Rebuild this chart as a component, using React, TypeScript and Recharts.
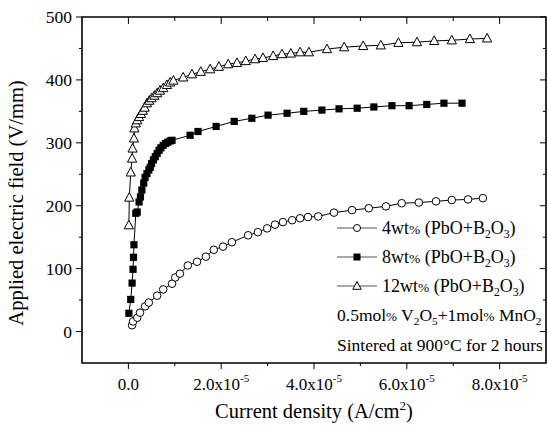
import React from 'react';
import { LineChart, Line, XAxis, YAxis, ReferenceArea } from 'recharts';

const W = 547;
const H = 425;
const PLOT = { left: 82, right: 546, top: 17, bottom: 363 };
const FONT = "'Liberation Serif', 'Times New Roman', serif";

// current density in units of 1e-5 A/cm2, field in V/mm
const x4 = [0.08, 0.10, 0.19, 0.25, 0.36, 0.44, 0.62, 0.75, 0.94, 1.01, 1.11, 1.28, 1.48, 1.67, 1.84, 2.04, 2.23, 2.58, 2.79, 2.99, 3.16, 3.33, 3.53, 3.70, 3.87, 4.09, 4.43, 4.82, 5.18, 5.55, 5.89, 6.26, 6.63, 6.97, 7.32, 7.64];
const y4 = [10, 16, 22, 30, 40, 46, 57, 67, 76, 86, 92, 105, 111, 119, 130, 135, 142, 153, 158, 164, 170, 174, 177, 180, 182, 183, 189, 193, 196, 199, 204, 205, 207, 209, 210, 212];

const x8 = [0.01, 0.05, 0.08, 0.10, 0.11, 0.12, 0.16, 0.19, 0.23, 0.26, 0.29, 0.33, 0.36, 0.40, 0.44, 0.47, 0.50, 0.54, 0.58, 0.62, 0.66, 0.70, 0.75, 0.80, 0.85, 0.90, 0.94, 1.33, 1.50, 1.89, 2.28, 2.66, 3.01, 3.42, 3.78, 4.17, 4.54, 4.93, 5.29, 5.68, 6.05, 6.43, 6.80, 7.19];
const y8 = [29, 51, 77, 99, 118, 138, 188, 190, 206, 214, 225, 236, 245, 251, 257, 261, 267, 273, 278, 283, 288, 292, 296, 299, 301, 303, 304, 312, 318, 326, 334, 339, 344, 347, 350, 352, 354, 355, 357, 359, 359, 361, 363, 363];

const x12 = [0.01, 0.02, 0.05, 0.08, 0.09, 0.12, 0.13, 0.16, 0.19, 0.23, 0.27, 0.31, 0.35, 0.40, 0.45, 0.50, 0.56, 0.62, 0.68, 0.75, 0.83, 0.90, 0.97, 1.18, 1.37, 1.56, 1.76, 1.95, 2.15, 2.34, 2.53, 2.73, 2.90, 3.12, 3.31, 3.50, 3.70, 3.89, 4.28, 4.65, 5.06, 5.44, 5.82, 6.22, 6.59, 6.97, 7.36, 7.73];
const y12 = [169, 213, 253, 275, 291, 307, 323, 331, 336, 341, 346, 351, 356, 363, 367, 371, 375, 379, 383, 387, 392, 396, 399, 404, 409, 413, 417, 421, 425, 427, 430, 433, 435, 438, 441, 442, 444, 444, 449, 452, 454, 455, 459, 460, 462, 463, 465, 466];

// {..} = subscript
const seriesNames = ['4wt% (PbO+B{2}O{3})', '8wt% (PbO+B{2}O{3})', '12wt% (PbO+B{2}O{3})'];
const notes = ['0.5mol% V{2}O{5}+1mol% MnO{2}', 'Sintered at 900°C for 2 hours'];

const xTicks = [-1, 0, 1, 2, 3, 4, 5, 6, 7, 8, 9];
const yTicks = [-50, 0, 50, 100, 150, 200, 250, 300, 350, 400, 450, 500];

const toPoints = (xs: number[], ys: number[]) => xs.map((x, i) => ({ x: x * 1e-5, y: ys[i] }));
const data4 = toPoints(x4, y4);
const data8 = toPoints(x8, y8);
const data12 = toPoints(x12, y12);

const CircleDot = (p: any) => (
  <circle key={p.key} cx={p.cx} cy={p.cy} r={3.8} fill="#fff" stroke="#000" strokeWidth={1} />
);
const SquareDot = (p: any) => (
  <rect key={p.key} x={p.cx - 3.6} y={p.cy - 3.6} width={7.2} height={7.2} fill="#000" />
);
const TriangleDot = (p: any) => (
  <polygon
    key={p.key}
    points={`${p.cx},${p.cy - 5} ${p.cx - 4.6},${p.cy + 3.6} ${p.cx + 4.6},${p.cy + 3.6}`}
    fill="#fff"
    stroke="#000"
    strokeWidth={1}
  />
);

const XTick = (props: any) => {
  const { x, y, payload } = props;
  const n = Math.round(payload.value * 1e5);
  if (n <= -1 || n >= 9) return <g />;
  const major = n % 2 === 0;
  return (
    <g>
      <line x1={x} x2={x} y1={y} y2={y + (major ? 6 : 3)} stroke="#000" />
      <line x1={x} x2={x} y1={PLOT.top} y2={PLOT.top + (major ? 7 : 4)} stroke="#000" />
      {major && (
        <text x={x} y={y + 27} textAnchor="middle" fontFamily={FONT} fontSize={17} fill="#000">
          {n === 0 ? '0.0' : (
            <>
              {`${n}.0x10`}
              <tspan dy={-8} fontSize={11}>-5</tspan>
            </>
          )}
        </text>
      )}
    </g>
  );
};

const YTick = (props: any) => {
  const { x, y, payload } = props;
  const v = payload.value;
  if (v <= -50) return <g />;
  const major = v % 100 === 0;
  return (
    <g>
      <line x1={x - (major ? 6 : 3)} x2={x} y1={y} y2={y} stroke="#000" />
      <line x1={PLOT.right - (major ? 6 : 3)} x2={PLOT.right} y1={y} y2={y} stroke="#000" />
      {major && (
        <text x={x - 10} y={y + 6} textAnchor="end" fontFamily={FONT} fontSize={17.5} fill="#000">
          {v}
        </text>
      )}
    </g>
  );
};

// subscripts in {..}; the percent sign is drawn narrower, as in the original figure
const SubText = ({ x, y, text, size }: { x: number; y: number; text: string; size: number }) => {
  const parts = text.split(/(\{.*?\}|%)/);
  let offset = 0;
  return (
    <text x={x} y={y} fontFamily={FONT} fontSize={size} fill="#000">
      {parts.map((p, i) => {
        if (!p) return null;
        const sub = p.startsWith('{');
        const target = sub ? 4 : 0;
        const dy = target - offset;
        offset = target;
        const fs = sub ? size * 0.65 : p === '%' ? size * 0.75 : size;
        return (
          <tspan key={i} dy={dy} fontSize={fs}>
            {sub ? p.slice(1, -1) : p}
          </tspan>
        );
      })}
    </text>
  );
};

const legendMarkers = [
  (cx: number, cy: number) => <circle cx={cx} cy={cy} r={3.5} fill="#fff" stroke="#000" />,
  (cx: number, cy: number) => <rect x={cx - 3.5} y={cy - 3.5} width={7} height={7} fill="#000" />,
  (cx: number, cy: number) => (
    <polygon points={`${cx},${cy - 4.5} ${cx - 4.2},${cy + 3.3} ${cx + 4.2},${cy + 3.3}`} fill="#fff" stroke="#000" />
  ),
];

const LegendOverlay = () => {
  const rowY = [228, 257, 286];
  const noteY = [321, 351];
  return (
    <svg width={W} height={H} style={{ position: 'absolute', left: 0, top: 0, pointerEvents: 'none' }}>
      {seriesNames.map((name, i) => (
        <g key={name}>
          <line x1={337} x2={377} y1={rowY[i]} y2={rowY[i]} stroke="#555" strokeWidth={1.2} />
          {legendMarkers[i](357, rowY[i])}
          <SubText x={382} y={rowY[i] + 6} text={name} size={18} />
        </g>
      ))}
      {notes.map((n, i) => (
        <SubText key={n} x={337} y={noteY[i]} text={n} size={17.5} />
      ))}
    </svg>
  );
};

export default function App() {
  return (
    <div style={{ position: 'absolute', left: 0, top: 0, width: W, height: H, background: '#fff' }}>
      <LineChart
        width={W}
        height={H}
        margin={{ top: PLOT.top, right: W - PLOT.right, bottom: 0, left: 0 }}
      >
        <XAxis
          dataKey="x"
          type="number"
          domain={[-1e-5, 9e-5]}
          ticks={xTicks.map((t) => t * 1e-5)}
          interval={0}
          tickSize={0}
          tickMargin={0}
          tickLine={false}
          axisLine={false}
          height={H - PLOT.bottom}
          tick={XTick}
          allowDataOverflow
        />
        <YAxis
          type="number"
          domain={[-50, 500]}
          ticks={yTicks}
          interval={0}
          tickSize={0}
          tickMargin={0}
          tickLine={false}
          axisLine={false}
          width={PLOT.left}
          tick={YTick}
          allowDataOverflow
        />
        <ReferenceArea x1={-1e-5} x2={9e-5} y1={-50} y2={500} fill="none" stroke="#000" strokeWidth={1.6} fillOpacity={0} />
        <Line data={data4} dataKey="y" name={seriesNames[0]} stroke="#000" strokeWidth={1} dot={CircleDot} isAnimationActive={false} />
        <Line data={data8} dataKey="y" name={seriesNames[1]} stroke="#000" strokeWidth={1} dot={SquareDot} isAnimationActive={false} />
        <Line data={data12} dataKey="y" name={seriesNames[2]} stroke="#000" strokeWidth={1} dot={TriangleDot} isAnimationActive={false} />
        <text x={17} y={203} transform="rotate(-90 17 203)" dy={6} textAnchor="middle" fontFamily={FONT} fontSize={20.5} fill="#000">
          Applied electric field (V/mm)
        </text>
        <text x={(PLOT.left + PLOT.right) / 2} y={418} textAnchor="middle" fontFamily={FONT} fontSize={20.5} fill="#000">
          Current density (A/cm<tspan dy={-8} fontSize={13}>2</tspan><tspan dy={8}>)</tspan>
        </text>
      </LineChart>
      <LegendOverlay />
    </div>
  );
}
